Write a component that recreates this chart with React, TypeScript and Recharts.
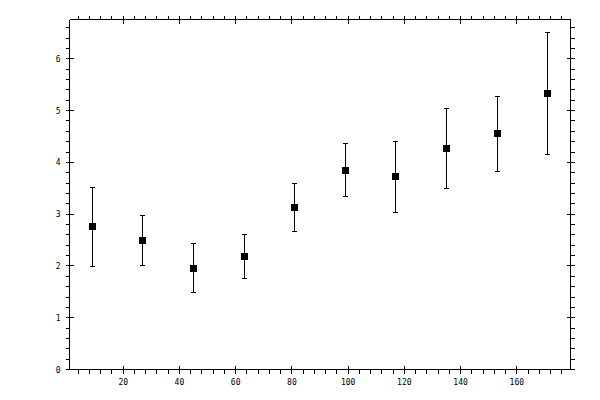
import { ComposedChart, Scatter, ErrorBar, XAxis, YAxis } from 'recharts';

// measured values
const xValues = [9, 27, 45, 63, 81, 99, 117, 135, 153, 171];
const yValues = [2.77, 2.49, 1.95, 2.18, 3.13, 3.84, 3.73, 4.27, 4.56, 5.33];
const upperValues = [3.52, 2.97, 2.43, 2.61, 3.59, 4.36, 4.4, 5.04, 5.28, 6.51];
const lowerValues = [1.99, 2.01, 1.49, 1.76, 2.66, 3.34, 3.03, 3.49, 3.83, 4.15];

const xMajorTicks = [20, 40, 60, 80, 100, 120, 140, 160];
const xTicks = [
    4, 8, 12, 16, 20, 24, 28, 32, 36, 40, 44, 48, 52, 56, 60, 64, 68, 72, 76, 80, 84, 88,
    92, 96, 100, 104, 108, 112, 116, 120, 124, 128, 132, 136, 140, 144, 148, 152, 156, 160,
    164, 168, 172, 176,
];
const yMajorTicks = [0, 1, 2, 3, 4, 5, 6];
const yTicks = [
    0, 0.2, 0.4, 0.6, 0.8, 1, 1.2, 1.4, 1.6, 1.8, 2, 2.2, 2.4, 2.6, 2.8, 3, 3.2, 3.4, 3.6,
    3.8, 4, 4.2, 4.4, 4.6, 4.8, 5, 5.2, 5.4, 5.6, 5.8, 6, 6.2, 6.4, 6.6,
];

const X_DOMAIN: [number, number] = [0.9, 179.1];
const Y_DOMAIN: [number, number] = [0, 6.76];

const data = xValues.map((x, i) => ({
    x,
    y: yValues[i],
    err: [yValues[i] - lowerValues[i], upperValues[i] - yValues[i]],
}));

const FONT = { fontFamily: 'DejaVu Sans Mono', fontSize: 8, fill: '#000' };

function makeTick(side: 'bottom' | 'top' | 'left' | 'right') {
    return function Tick(props: any) {
        const { x, y, payload } = props;
        const v = payload.value;
        const isX = side === 'bottom' || side === 'top';
        const major = isX ? xMajorTicks.includes(v) : yMajorTicks.some(m => Math.abs(m - v) < 1e-6);
        const out = side === 'bottom' || side === 'right' ? 1 : -1;
        if (isX) {
            return (
                <g>
                    <line x1={x} x2={x} y1={major ? y - 4 * out : y} y2={y + 4 * out} stroke="#000" />
                    {major && side === 'bottom' && (
                        <text x={x} y={y + 15} textAnchor="middle" {...FONT}>{v}</text>
                    )}
                </g>
            );
        }
        return (
            <g>
                <line y1={y} y2={y} x1={major ? x - 4 * out : x} x2={x + 4 * out} stroke="#000" />
                {major && side === 'left' && (
                    <text x={x - 9} y={y + 3} textAnchor="end" {...FONT}>{v}</text>
                )}
            </g>
        );
    };
}

function Square(props: any) {
    const { cx, cy } = props;
    return <rect x={cx - 3.5} y={cy - 3.5} width={7} height={7} fill="#000" />;
}

export default function App() {
    return (
        <div style={{ position: 'absolute', left: 0, top: 0, background: '#fff' }}>
            <style>{'.recharts-surface line, .recharts-surface path, .recharts-surface rect { shape-rendering: crispEdges; }'}</style>
            <ComposedChart
                width={600}
                height={400}
                data={data}
                margin={{ top: 9.5, right: 9.5, bottom: 10.5, left: 39.5 }}
            >
                <XAxis
                    xAxisId="bottom"
                    dataKey="x"
                    type="number"
                    orientation="bottom"
                    domain={X_DOMAIN}
                    ticks={xTicks}
                    interval={0}
                    height={20}
                    tickSize={0}
                    tickMargin={0}
                    tickLine={false}
                    axisLine={{ stroke: '#000' }}
                    tick={makeTick('bottom')}
                    allowDataOverflow
                />
                <XAxis
                    xAxisId="top"
                    dataKey="x"
                    type="number"
                    orientation="top"
                    domain={X_DOMAIN}
                    ticks={xTicks}
                    interval={0}
                    height={10}
                    tickSize={0}
                    tickMargin={0}
                    tickLine={false}
                    axisLine={{ stroke: '#000' }}
                    tick={makeTick('top')}
                    allowDataOverflow
                />
                <YAxis
                    yAxisId="left"
                    type="number"
                    orientation="left"
                    domain={Y_DOMAIN}
                    ticks={yTicks}
                    interval={0}
                    width={30}
                    tickSize={0}
                    tickMargin={0}
                    tickLine={false}
                    axisLine={{ stroke: '#000' }}
                    tick={makeTick('left')}
                    allowDataOverflow
                />
                <YAxis
                    yAxisId="right"
                    type="number"
                    orientation="right"
                    domain={Y_DOMAIN}
                    ticks={yTicks}
                    interval={0}
                    width={20}
                    tickSize={0}
                    tickMargin={0}
                    tickLine={false}
                    axisLine={{ stroke: '#000' }}
                    tick={makeTick('right')}
                    allowDataOverflow
                />
                <Scatter
                    xAxisId="bottom"
                    yAxisId="left"
                    dataKey="y"
                    shape={<Square />}
                    isAnimationActive={false}
                >
                    <ErrorBar dataKey="err" direction="y" width={2.5} stroke="#000" strokeWidth={1} isAnimationActive={false} />
                </Scatter>
                <Scatter xAxisId="top" yAxisId="right" dataKey="y" shape={() => null} isAnimationActive={false} />
            </ComposedChart>
        </div>
    );
}
